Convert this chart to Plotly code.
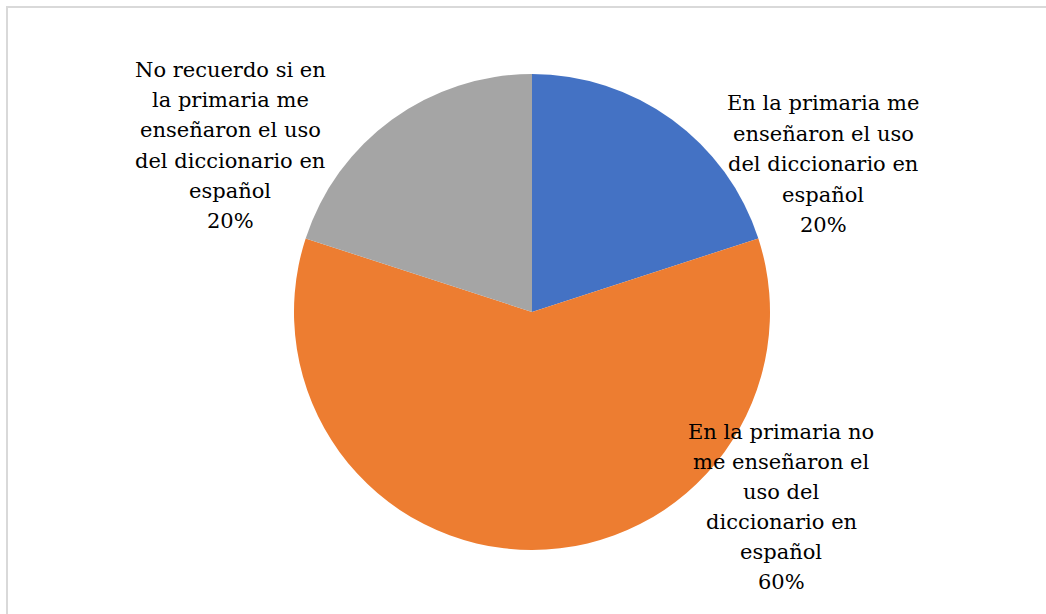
import plotly.graph_objects as go

W, H = 1046, 614

# Data
categories = [
    "En la primaria me enseñaron el uso del diccionario en español",
    "En la primaria no me enseñaron el uso del diccionario en español",
    "No recuerdo si en la primaria me enseñaron el uso del diccionario en español",
]
values = [20, 60, 20]
label_lines = [
    ["En la primaria me", "enseñaron el uso", "del diccionario en", "español"],
    ["En la primaria no", "me enseñaron el", "uso del", "diccionario en", "español"],
    ["No recuerdo si en", "la primaria me", "enseñaron el uso", "del diccionario en", "español"],
]
colors = ["#4472C4", "#ED7D31", "#A5A5A5"]

# Layout (pixels)
cx, cy, r = 532, 312, 238
label_pos = [(823, 110.5, 30.6), (781, 440, 30.0), (230, 77.5, 30.2)]  # center x, first baseline, line step
FS = 21
FONT = "DejaVu Serif"

fig = go.Figure(go.Pie(
    labels=categories,
    values=values,
    sort=False,
    direction="clockwise",
    rotation=0,
    marker=dict(colors=colors, line=dict(width=0)),
    textinfo="none",
    hoverinfo="label+percent",
    showlegend=False,
    domain=dict(x=[(cx - r) / W, (cx + r) / W], y=[(H - cy - r) / H, (H - cy + r) / H]),
))

total = sum(values)
annotations = []
for lines, v, (x, b, step) in zip(label_lines, values, label_pos):
    all_lines = lines + [f"{round(100 * v / total)}%"]
    for i, t in enumerate(all_lines):
        base = b + i * step
        ymid = base - 0.36 * FS
        annotations.append(dict(
            x=x / W, y=1 - ymid / H, xref="paper", yref="paper",
            text=t, showarrow=False, xanchor="center", yanchor="middle",
            font=dict(family=FONT, size=FS, color="#000000"),
        ))

fig.update_layout(
    width=W, height=H,
    margin=dict(l=0, r=0, t=0, b=0),
    paper_bgcolor="white",
    plot_bgcolor="white",
    font=dict(family=FONT),
    annotations=annotations,
    shapes=[dict(type="rect", xref="paper", yref="paper",
                 x0=7 / W, y0=1 - 7 / H, x1=1.01, y1=-0.02,
                 line=dict(color="#D9D9D9", width=2), fillcolor="rgba(0,0,0,0)", layer="below")],
)

fig.write_html("out.html")
